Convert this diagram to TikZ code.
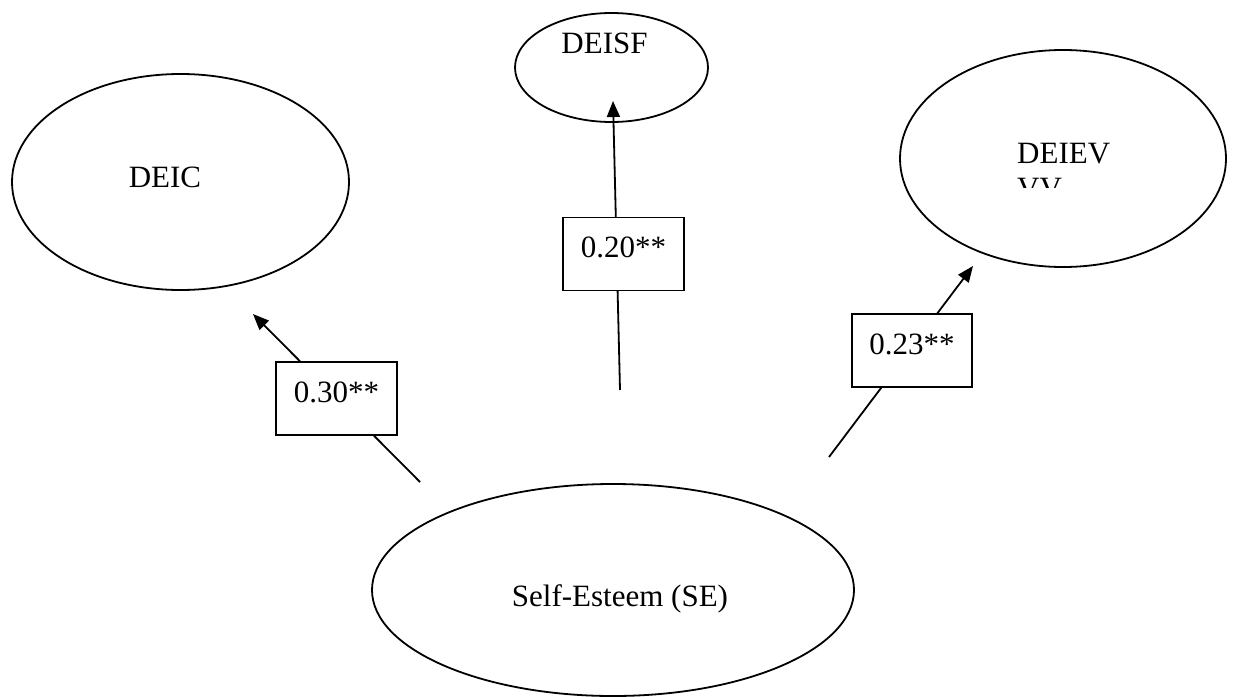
\documentclass[tikz,border=0pt]{standalone}
\usepackage{fontspec}
\setmainfont{Liberation Serif}
\usetikzlibrary{shapes.geometric,arrows.meta}
\begin{document}
\begin{tikzpicture}[x=1pt,y=-1pt,
  oval/.style={draw,ellipse,line width=1.8pt,inner sep=0pt},
  lbl/.style={font=\fontsize{31}{37}\selectfont,inner sep=0pt},
  coefbox/.style={draw,fill=white,line width=1.8pt,inner xsep=0pt,inner ysep=0pt,
    text height=40pt,text depth=33pt,minimum width=121pt,font=\fontsize{31}{37}\selectfont},
  link/.style={line width=1.8pt},
  tip/.style={-{Triangle[length=16pt,width=13pt]}}
]
\useasboundingbox (0,0) rectangle (1239,696);

% latent variables
\node[oval,minimum width=337pt,minimum height=216pt] (deic) at (180.5,182) {};
\node[oval,minimum width=193pt,minimum height=109pt] (deisf) at (611.5,67.5) {};
\node[oval,minimum width=326pt,minimum height=217pt] (deiev) at (1063,158.5) {};
\node[oval,minimum width=482pt,minimum height=212pt] (se) at (613,590) {};

% labels
\node[lbl,anchor=base] (deicT) at (165,187) {DEIC};
\node[lbl,anchor=base] (deisfT) at (604.5,53) {DEISF};
\node[lbl,anchor=base west] (deievT) at (1017,163) {DEIEV};
\begin{scope}
  \clip (1000,165) rectangle (1100,187.5);
  \node[lbl,anchor=base west] (deievV) at (1017,198) {VV};
\end{scope}
\node[lbl,anchor=base] (seT) at (620,606) {Self-Esteem (SE)};

% connector ends
\coordinate (s1) at (420,482); \coordinate (t1) at (253,314);
\coordinate (s2) at (620,390); \coordinate (t2) at (613,101);
\coordinate (s3) at (829,457); \coordinate (t3) at (973,266);

\draw[link,tip] (s1) -- (t1);
\draw[link,tip] (s2) -- (t2);
\draw[link,tip] (s3) -- (t3);

% coefficient boxes
\node[coefbox] (b1) at (336.5,398.5) {0.30**};
\node[coefbox] (b2) at (623.5,254) {0.20**};
\node[coefbox,minimum width=120pt] (b3) at (912,350.5) {0.23**};
\end{tikzpicture}
\end{document}
